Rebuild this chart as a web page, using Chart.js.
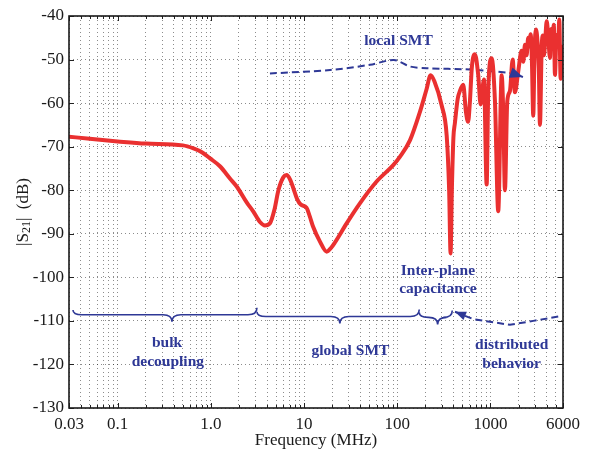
<!DOCTYPE html>
<html><head><meta charset="utf-8">
<style>html,body{margin:0;padding:0;background:#fff}#wrap{width:595px;height:456px}</style>
<script src="https://cdn.jsdelivr.net/npm/chart.js@4.4.1/dist/chart.umd.min.js"></script>
</head><body><div id="wrap"><canvas id="c" width="595" height="456"></canvas></div>
<script>
// ---- data ----
const freqMHz = [0.03,0.05,0.1,0.2,0.5,0.65,0.8,0.98,1.25,1.6,1.9,2.42,2.83,3.36,3.8,4.3,4.8,5.3,6.0,6.5,7.1,7.65,8.4,9.2,10.6,11.5,12.5,14.8,17.5,19.5,21.4,28.6,39.7,60,90,107,137,175,205,228,250,299,339,360,373,385,400,415,445,470,510,545,575,600,632,681,739,784,851,910,946,1028,1117,1211,1318,1371,1429,1514,1618,1730,1829,1986,2158,2250,2344,2440,2541,2620,2698,2780,2877,2970,3076,3200,3300,3396,3540,3650,3750,3880,4009,4150,4345,4500,4645,4780,4920,5050,5200,5330,5470,5660,5800,5940,6000];
const s21dB = [-67.7,-68.2,-68.8,-69.3,-69.7,-70.4,-71.3,-72.7,-74.5,-77.3,-79.2,-82.8,-84.8,-87.3,-88.1,-87.6,-84.5,-80.0,-77.0,-76.5,-77.6,-79.5,-82.0,-83.3,-84.0,-86.0,-88.4,-91.8,-94.1,-93.2,-92.0,-87.6,-83.0,-78.0,-74.3,-72.3,-68.5,-62.0,-57.0,-53.6,-55.0,-60.5,-67.5,-80.0,-94.5,-80.0,-68.0,-64.6,-59.0,-57.2,-55.8,-62.0,-64.3,-60.0,-51.6,-48.8,-53.6,-60.3,-54.6,-78.7,-57.3,-49.7,-59.6,-84.8,-53.6,-62.0,-80.0,-59.6,-57.2,-50.0,-57.5,-52.7,-48.0,-50.5,-46.6,-49.0,-45.0,-47.0,-44.2,-50.0,-62.9,-48.0,-43.1,-46.0,-52.0,-65.0,-47.5,-44.5,-49.0,-45.0,-41.2,-44.0,-49.6,-43.0,-45.0,-42.0,-53.5,-47.0,-44.3,-46.0,-40.8,-54.4,-47.0,-48.1,-52.0];

const xTickValues = [0.03,0.1,1,10,100,1000,6000];
const xTickLabels = ['0.03','0.1','1.0','10','100','1000','6000'];
const yMin = -130, yMax = -40, yStep = 10;

// annotation curves (data units)
const localSmtFreq = [4.3,19,51,92,137,206,600,1750,2230];
const localSmtDb   = [-53.2,-52.4,-51.2,-50.1,-51.6,-52.0,-52.3,-53.2,-54.0];
const distFreq = [5330,2877,1618,986,653,416];
const distDb   = [-109.0,-110.0,-110.9,-110.2,-109.6,-107.9];

// braces: start, cusp, end frequency and level (dB)
const braceFrom = [0.0331,3.12,172];
const braceMid  = [0.382,24.2,271];
const braceTo   = [3.12,172,389];
const braceDb   = [-108.6,-109.0,-109.2];

// annotation texts
const noteText = ['local SMT','bulk','decoupling','global SMT','Inter-plane','capacitance','distributed','behavior'];
const noteFreq = [103,0.338,0.345,31.4,273,273,1687,1687];
const noteDb   = [-45.7,-115.1,-119.4,-116.9,-98.5,-102.7,-115.6,-119.9];

// ---- styling / helpers ----
const RED = 'rgb(234,48,48)';
const BLUE = 'rgb(46,56,150)';
const SERIF = "'Liberation Serif','Times New Roman',serif";

function logGrid(min, max){
  const out = [];
  for (let e = -2; e <= 3; e++) for (let m = 1; m <= 9; m++){
    const v = m * Math.pow(10, e);
    if (v >= min*0.9999 && v <= max*1.0001) out.push(v);
  }
  return out;
}
const gridVals = logGrid(0.03, 6000);
function labelFor(v){
  for (let i = 0; i < xTickValues.length; i++) if (Math.abs(v/xTickValues[i]-1) < 1e-6) return xTickLabels[i];
  return '';
}

function arrowHead(ctx, fx, fy, tx, ty, len, half){
  const a = Math.atan2(ty-fy, tx-fx);
  ctx.beginPath();
  ctx.moveTo(tx, ty);
  ctx.lineTo(tx - len*Math.cos(a) + half*Math.sin(a), ty - len*Math.sin(a) - half*Math.cos(a));
  ctx.lineTo(tx - len*Math.cos(a) - half*Math.sin(a), ty - len*Math.sin(a) + half*Math.cos(a));
  ctx.closePath();
  ctx.fill();
}

function brace(ctx, x1, xm, x2, yl, h, r){
  ctx.beginPath();
  ctx.moveTo(x1, yl - h*0.7);
  ctx.quadraticCurveTo(x1, yl, x1 + r, yl);
  ctx.lineTo(xm - r, yl);
  ctx.quadraticCurveTo(xm, yl, xm, yl + h);
  ctx.quadraticCurveTo(xm, yl, xm + r, yl);
  ctx.lineTo(x2 - r, yl);
  ctx.quadraticCurveTo(x2, yl, x2, yl - h);
  ctx.stroke();
}

const decor = {
  id: 'decor',
  afterDatasetsDraw(chart){
    const {ctx, chartArea: a, scales: {x, y}} = chart;
    ctx.save();
    // inward ticks
    ctx.strokeStyle = '#222'; ctx.lineWidth = 1;
    ctx.beginPath();
    for (const v of gridVals){
      const px = Math.round(x.getPixelForValue(v)) + 0.5;
      const L = labelFor(v) ? 5 : 3;
      ctx.moveTo(px, a.bottom); ctx.lineTo(px, a.bottom - L);
      ctx.moveTo(px, a.top); ctx.lineTo(px, a.top + L);
    }
    for (let v = yMin; v <= yMax; v += yStep){
      const py = Math.round(y.getPixelForValue(v)) + 0.5;
      ctx.moveTo(a.left, py); ctx.lineTo(a.left + 5, py);
      ctx.moveTo(a.right, py); ctx.lineTo(a.right - 5, py);
    }
    ctx.stroke();
    // frame
    ctx.lineWidth = 1.6; ctx.strokeStyle = '#1a1a1a';
    ctx.strokeRect(a.left, a.top, a.right - a.left, a.bottom - a.top);

    // braces
    ctx.strokeStyle = BLUE; ctx.lineWidth = 1.6;
    for (let i = 0; i < braceFrom.length; i++){
      brace(ctx, x.getPixelForValue(braceFrom[i]), x.getPixelForValue(braceMid[i]), x.getPixelForValue(braceTo[i]),
            y.getPixelForValue(braceDb[i]), 7, 9);
    }
    // arrow heads
    ctx.fillStyle = BLUE;
    let n = localSmtFreq.length;
    arrowHead(ctx, x.getPixelForValue(localSmtFreq[n-2]), y.getPixelForValue(localSmtDb[n-2]),
              x.getPixelForValue(localSmtFreq[n-1]), y.getPixelForValue(localSmtDb[n-1]), 13, 5.5);
    n = distFreq.length;
    arrowHead(ctx, x.getPixelForValue(distFreq[n-2]), y.getPixelForValue(distDb[n-2]),
              x.getPixelForValue(distFreq[n-1]), y.getPixelForValue(distDb[n-1]), 11, 4.5);

    // annotation texts
    ctx.font = "bold 15.5px " + SERIF;
    ctx.textAlign = 'center'; ctx.textBaseline = 'middle';
    for (let i = 0; i < noteText.length; i++){
      ctx.fillText(noteText[i], x.getPixelForValue(noteFreq[i]), y.getPixelForValue(noteDb[i]));
    }

    // y-axis title |S21|  (dB)
    const cy = (a.top + a.bottom) / 2;
    ctx.translate(22, cy); ctx.rotate(-Math.PI/2);
    ctx.fillStyle = '#1a1a1a'; ctx.textBaseline = 'alphabetic'; ctx.textAlign = 'left';
    const big = "17px " + SERIF, small = "12px " + SERIF;
    ctx.font = big; const w1 = ctx.measureText('|S').width; const w3 = ctx.measureText('|  (dB)').width;
    ctx.font = small; const w2 = ctx.measureText('21').width;
    const tot = w1 + w2 + w3; let sx = -tot/2; const base = 6;
    ctx.font = big; ctx.fillText('|S', sx, base); sx += w1;
    ctx.font = small; ctx.fillText('21', sx, base + 2); sx += w2;
    ctx.font = big; ctx.fillText('|  (dB)', sx, base);
    ctx.restore();
  }
};

const pts = (fs, vs) => fs.map((f, i) => ({x: f, y: vs[i]}));

new Chart(document.getElementById('c'), {
  type: 'line',
  data: {
    datasets: [
      { data: pts(freqMHz, s21dB), borderColor: RED, borderWidth: 4, pointRadius: 0,
        cubicInterpolationMode: 'monotone', fill: false, borderJoinStyle: 'round', borderCapStyle: 'round' },
      { data: pts(localSmtFreq, localSmtDb), borderColor: BLUE, borderWidth: 2, borderDash: [7,4],
        pointRadius: 0, tension: 0.3, fill: false },
      { data: pts(distFreq, distDb), borderColor: BLUE, borderWidth: 2, borderDash: [7,4],
        pointRadius: 0, tension: 0, fill: false }
    ]
  },
  options: {
    responsive: false, animation: false,
    layout: { padding: { top: 16, right: 32, bottom: 0, left: 0 } },
    plugins: { legend: { display: false }, tooltip: { enabled: false } },
    scales: {
      x: {
        type: 'logarithmic', min: 0.03, max: 6000,
        afterBuildTicks(s){ s.ticks = gridVals.map(v => ({value: v})); },
        afterFit(s){ s.height = 48; },
        ticks: { autoSkip: false, maxRotation: 0, minRotation: 0, padding: 6,
                 color: '#1a1a1a', font: { family: SERIF, size: 17 },
                 callback: (v) => labelFor(v) },
        grid: { color: 'rgba(0,0,0,0.45)', lineWidth: 1, drawTicks: false },
        border: { display: false, dash: [1,3] },
        title: { display: true, text: 'Frequency (MHz)', color: '#1a1a1a',
                 font: { family: SERIF, size: 17 }, padding: { top: 0, bottom: 5 } }
      },
      y: {
        type: 'linear', min: yMin, max: yMax,
        afterFit(s){ s.width = 69; },
        ticks: { stepSize: yStep, padding: 5, color: '#1a1a1a', font: { family: SERIF, size: 17 } },
        grid: { color: 'rgba(0,0,0,0.45)', lineWidth: 1, drawTicks: false },
        border: { display: false, dash: [1,3] }
      }
    }
  },
  plugins: [decor]
});
</script></body></html>
